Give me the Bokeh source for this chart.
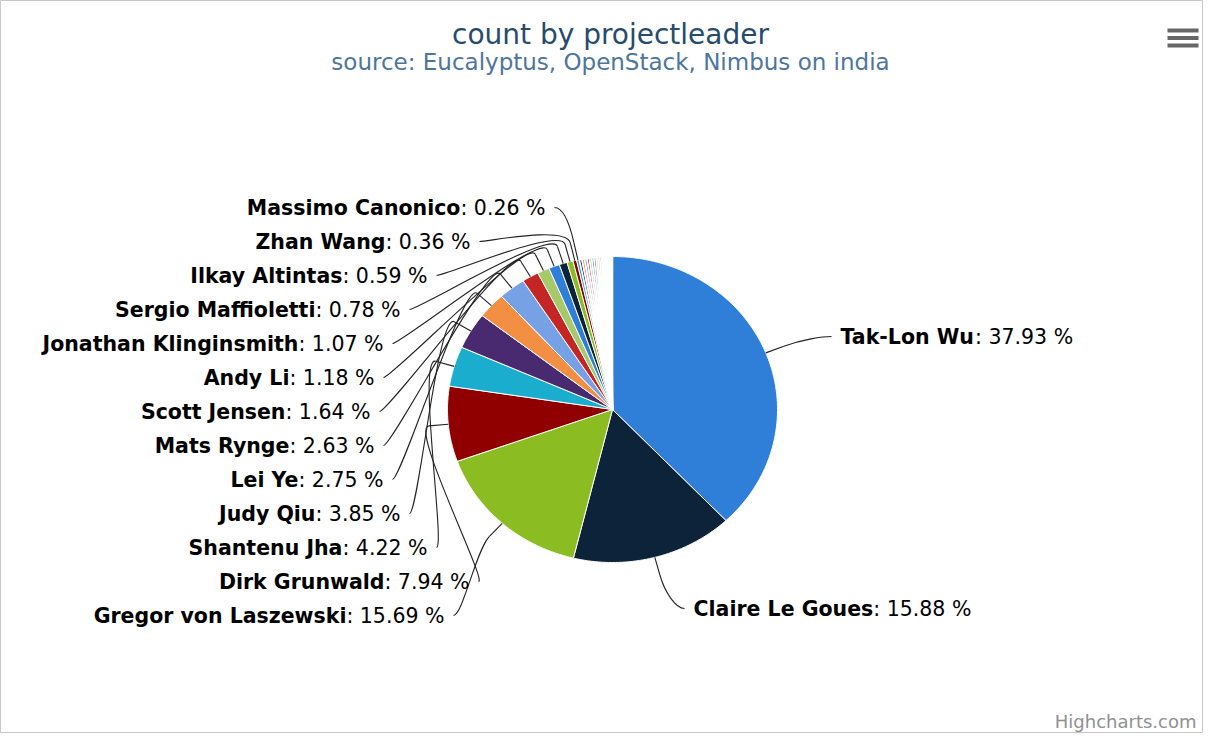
import math
from bokeh.plotting import figure
from bokeh.models import Range1d, ColumnDataSource
from bokeh.embed import file_html
from bokeh.resources import INLINE
from bokeh.core.properties import value

# ---------------- data ----------------
leaders = ["Tak-Lon Wu", "Claire Le Goues", "Gregor von Laszewski", "Dirk Grunwald",
           "Shantenu Jha", "Judy Qiu", "Lei Ye", "Mats Rynge", "Scott Jensen", "Andy Li",
           "Jonathan Klinginsmith", "Sergio Maffioletti", "Ilkay Altintas", "Zhan Wang",
           "Massimo Canonico"]
percents = [37.93, 15.88, 15.69, 7.94, 4.22, 3.85, 2.75, 2.63, 1.64, 1.18, 1.07,
            0.78, 0.59, 0.36, 0.26]
# many tiny slices whose labels are hidden (estimated)
unlabeled = [0.26, 0.25, 0.25, 0.23, 0.22, 0.22, 0.20, 0.19, 0.18, 0.18, 0.16,
             0.15, 0.13, 0.13, 0.12, 0.10, 0.10, 0.08, 0.08]
palette = ["#2f7ed8", "#0d233a", "#8bbc21", "#910000", "#1aadce",
           "#492970", "#f28f43", "#77a1e5", "#c42525", "#a6c96a"]
title = "count by projectleader"
subtitle = "source: Eucalyptus, OpenStack, Nimbus on india"
credits = "Highcharts.com"

# ---------------- layout ----------------
CX, CY, RX, RY = 612.0, 409.0, 165.0, 153.0
K = RX / RY
OFF = 18.0
FS = 20.5
# label anchors (edge of text nearest the pie) and side
label_layout = {
    "Tak-Lon Wu": (840, 336, "right"),
    "Claire Le Goues": (693, 608, "right"),
    "Gregor von Laszewski": (444, 615, "left"),
    "Dirk Grunwald": (469, 581, "left"),
    "Shantenu Jha": (427, 547, "left"),
    "Judy Qiu": (400, 513, "left"),
    "Lei Ye": (383, 479, "left"),
    "Mats Rynge": (374, 445, "left"),
    "Scott Jensen": (370, 411, "left"),
    "Andy Li": (374, 377, "left"),
    "Jonathan Klinginsmith": (383, 343, "left"),
    "Sergio Maffioletti": (400, 309, "left"),
    "Ilkay Altintas": (427, 275, "left"),
    "Zhan Wang": (470, 241, "left"),
    "Massimo Canonico": (545, 207, "left"),
}

REG_W = {":": 0.337, " ": 0.318, ".": 0.318, "%": 0.950}
for d in "0123456789":
    REG_W[d] = 0.636
BOLD_W = {"T": 0.682, "a": 0.675, "k": 0.665, "-": 0.415, "L": 0.637, "o": 0.687,
          "n": 0.712, " ": 0.348, "W": 1.03, "u": 0.712, "C": 0.734, "l": 0.343,
          "i": 0.343, "r": 0.493, "e": 0.678, "G": 0.821, "s": 0.595}


def width(s, table):
    return FS * sum(table.get(ch, 0.65) for ch in s)


def pt(theta, rx, ry):
    return CX + rx * math.sin(theta), CY - ry * math.cos(theta)


p = figure(width=1203, height=733, output_backend="svg", toolbar_location=None,
           x_range=Range1d(0, 1203), y_range=Range1d(733, 0), min_border=0)
p.axis.visible = False
p.grid.visible = False
p.background_fill_color = "white"
p.border_fill_color = "white"
p.outline_line_color = "#c8c8c8"

values = percents + unlabeled
total = sum(values)
xs, ys, cols, lws = [], [], [], []
mids = []
acc = 0.0
for i, v in enumerate(values):
    a0 = 2 * math.pi * acc / total
    a1 = 2 * math.pi * (acc + v) / total
    acc += v
    n = max(2, int(math.degrees(a1 - a0) / 0.5) + 2)
    px, py = [CX], [CY]
    for j in range(n + 1):
        t = a0 + (a1 - a0) * j / n
        x, y = pt(t, RX, RY)
        px.append(x)
        py.append(y)
    xs.append(px)
    ys.append(py)
    cols.append(palette[i % len(palette)])
    lws.append(1.0 if i < len(percents) else 1.6)
    mids.append((a0 + a1) / 2)

p.patches(xs="xs", ys="ys", fill_color="cols", line_color="white", line_width="lws",
          source=ColumnDataSource(dict(xs=xs, ys=ys, cols=cols, lws=lws)))

# connectors and labels
bz = dict(x0=[], y0=[], x1=[], y1=[], cx0=[], cy0=[], cx1=[], cy1=[])
sg = dict(x0=[], y0=[], x1=[], y1=[])
bold_t = dict(x=[], y=[], text=[], align=[])
reg_t = dict(x=[], y=[], text=[], align=[])
for i, name in enumerate(leaders):
    ax, ay, side = label_layout[name]
    th = mids[i]
    ex, ey = pt(th, RX, RY)
    p2x, p2y = pt(th, RX + OFF * K, RY + OFF)
    c2x, c2y = pt(th, RX + 2 * OFF * K, RY + 2 * OFF)
    d = 1 if side == "left" else -1
    bz["x0"].append(ax + 9 * d); bz["y0"].append(ay)
    bz["cx0"].append(ax + 18 * d); bz["cy0"].append(ay)
    bz["cx1"].append(c2x); bz["cy1"].append(c2y)
    bz["x1"].append(p2x); bz["y1"].append(p2y)
    sg["x0"].append(p2x); sg["y0"].append(p2y)
    sg["x1"].append(ex); sg["y1"].append(ey)
    reg = ": %.2f %%" % percents[i]
    if side == "left":
        reg_t["x"].append(ax); reg_t["align"].append("right")
        bold_t["x"].append(ax - width(reg, REG_W)); bold_t["align"].append("right")
    else:
        bold_t["x"].append(ax); bold_t["align"].append("left")
        reg_t["x"].append(ax + width(name, BOLD_W)); reg_t["align"].append("left")
    reg_t["y"].append(ay); reg_t["text"].append(reg)
    bold_t["y"].append(ay); bold_t["text"].append(name)

p.bezier(x0="x0", y0="y0", x1="x1", y1="y1", cx0="cx0", cy0="cy0", cx1="cx1",
         cy1="cy1", line_color="#222222", line_width=1.1, source=ColumnDataSource(bz))
p.segment(x0="x0", y0="y0", x1="x1", y1="y1", line_color="#222222", line_width=1.1,
          source=ColumnDataSource(sg))

p.text(x="x", y="y", text="text", text_align="align", text_baseline="middle",
       text_font=value("DejaVu Sans"), text_font_style="bold",
       text_font_size=value("%.1fpx" % FS), text_color="#000000",
       source=ColumnDataSource(bold_t))
p.text(x="x", y="y", text="text", text_align="align", text_baseline="middle",
       text_font=value("DejaVu Sans"), text_font_size=value("%.1fpx" % FS),
       text_color="#000000", source=ColumnDataSource(reg_t))

# title / subtitle / credits
p.text(x=[610], y=[34], text=[title], text_align="center", text_baseline="middle",
       text_font=value("DejaVu Sans"), text_font_size=value("28px"), text_color="#274b6d")
p.text(x=[610], y=[61], text=[subtitle], text_align="center", text_baseline="middle",
       text_font=value("DejaVu Sans"), text_font_size=value("23px"), text_color="#4d759e")
p.text(x=[1196], y=[721], text=[credits], text_align="right",
       text_baseline="middle", text_font=value("DejaVu Sans"),
       text_font_size=value("18px"), text_color="#909090")

# export menu icon
p.quad(left=[1167] * 3, right=[1198] * 3, top=[28, 35.5, 43], bottom=[32, 39.5, 47],
       fill_color="#666666", line_color=None)

open("out.html", "w").write(file_html(p, INLINE))
